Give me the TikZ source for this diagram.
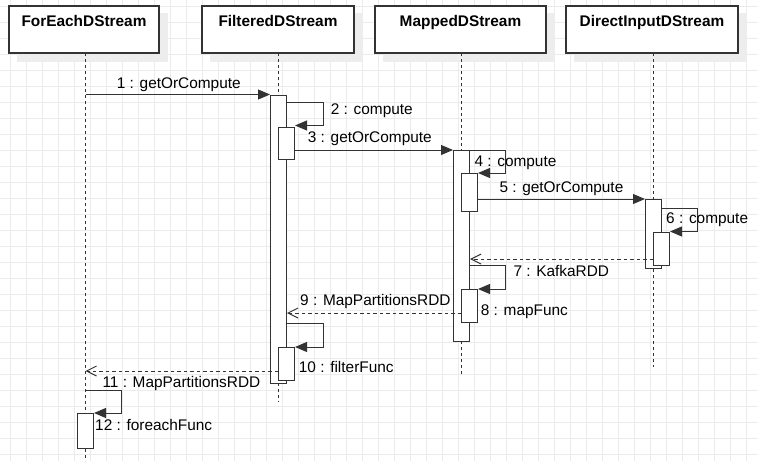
\documentclass[tikz,border=0pt]{standalone}
\usepackage{fontspec}
\setmainfont{Liberation Sans}
\usetikzlibrary{arrows.meta,backgrounds}
\definecolor{ln}{HTML}{333333}
\definecolor{gridc}{HTML}{EBEBEB}
\definecolor{shad}{HTML}{EDEDED}
\begin{document}
\begin{tikzpicture}[x=1pt,y=-1pt,
  hdr/.style={draw=ln, line width=1.2pt, fill=white, minimum width=#1, minimum height=47pt, inner sep=0pt},
  hdrtxt/.style={anchor=base, inner sep=0pt, font=\fontsize{15.4}{18}\selectfont\bfseries},
  act/.style={draw=ln, line width=1pt, fill=white, inner sep=0pt, minimum width=16pt, anchor=north west, minimum height=#1},
  life/.style={draw=ln, line width=1pt, dash pattern=on 3pt off 3pt},
  call/.style={draw=ln, line width=1pt, -{Triangle[length=12pt,width=10pt]}},
  ret/.style={draw=ln, line width=1pt, dash pattern=on 3.5pt off 3pt, -{Straight Barb[length=10pt,width=10pt]}},
  lbl/.style={anchor=base west, inner sep=0pt, font=\fontsize{15.4}{18}\selectfont}]
\useasboundingbox (0,0) rectangle (758,461);

% headers
\node[hdr=150] (hA) at (84,29.5) {};
\node[hdr=152] (hF) at (278,29.5) {};
\node[hdr=171] (hM) at (460.5,29.5) {};
\node[hdr=172] (hD) at (652,29.5) {};
\node[hdrtxt] (hAt) at (84,26.7) {ForEachDStream};
\node[hdrtxt] (hFt) at (278,26.7) {FilteredDStream};
\node[hdrtxt] (hMt) at (460.5,26.7) {MappedDStream};
\node[hdrtxt] (hDt) at (652,26.7) {DirectInputDStream};

% lifelines
\coordinate (lA) at (85.5,53);   \coordinate (lAe) at (85.5,461);
\coordinate (lF) at (278.5,53);  \coordinate (lFe) at (278.5,402);
\coordinate (lM) at (461.5,53);  \coordinate (lMe) at (461.5,374);
\coordinate (lD) at (653,53);    \coordinate (lDe) at (653,367);
\draw[life] (lA) -- (lAe);
\draw[life] (lF) -- (lFe);
\draw[life] (lM) -- (lMe);
\draw[life] (lD) -- (lDe);

% activations
\node[act=288.5] (F1) at (270,94.5) {};
\node[act=32] (F2) at (278,127) {};
\node[act=33] (F3) at (278,347) {};
\node[act=191] (M1) at (453,150) {};
\node[act=38] (M2) at (461,173) {};
\node[act=33] (M3) at (461,289) {};
\node[act=69] (D1) at (645,199) {};
\node[act=33] (D2) at (653,232) {};
\node[act=35] (E1) at (77,413) {};

% messages
\draw[call] (lA |- F1.north) -- (F1.north west);
\coordinate (s2) at ([shift={(0,7.5)}]F1.north east);
\draw[call] (s2) -- ++(36,0) |- ([shift={(0,-1.5)}]F2.north east);
\draw[call] (F2.east |- M1.north) -- (M1.north west);
\draw[call] (M1.north east) -- ++(35,0) |- (M2.north east);
\draw[call] (M2.east |- D1.north) -- (D1.north west);
\coordinate (s6) at ([shift={(0,9)}]D1.north east);
\draw[call] (s6) -- ++(35,0) |- ([shift={(0,-0.5)}]D2.north east);
\coordinate (r7) at ([shift={(0,-7)}]D2.south west);
\draw[ret] (r7) -- (r7 -| M1.east);
\coordinate (s8) at ([shift={(0,115)}]M1.north east);
\draw[call] (s8) -- ++(35,0) |- (M3.north east);
\coordinate (r9) at ([shift={(0,24)}]M3.north west);
\draw[ret] (r9) -- (r9 -| F1.east);
\coordinate (s10) at (M3.south -| F1.east);
\draw[call] (s10) -- ++(36,0) |- (F3.north east);
\coordinate (r11) at ([shift={(0,24)}]F3.north west);
\draw[ret] (r11) -- (r11 -| lA);
\coordinate (s12) at (85.5,390);
\draw[call] (s12) -- ++(35.5,0) |- (E1.north east);

% labels
\node[lbl] (t1) at (116.7,88.3) {1 : getOrCompute};
\node[lbl] (t2) at (330.7,114.3) {2 : compute};
\node[lbl] (t3) at (307.7,142.3) {3 : getOrCompute};
\node[lbl] (t4) at (474.3,166) {4 : compute};
\node[lbl] (t5) at (499.3,192.3) {5 : getOrCompute};
\node[lbl] (t6) at (666,223.3) {6 : compute};
\node[lbl] (t7) at (513.3,276) {7 : KafkaRDD};
\node[lbl] (t8) at (480.7,315.7) {8 : mapFunc};
\node[lbl] (t9) at (300,305.7) {9 : MapPartitionsRDD};
\node[lbl] (t10) at (298.7,372.7) {10 : filterFunc};
\node[lbl] (t11) at (102.3,387.7) {11 : MapPartitionsRDD};
\node[lbl] (t12) at (95,430.7) {12 : foreachFunc};

% background
\begin{pgfonlayer}{background}
  \fill[white] (0,0) rectangle (758,461);
  \foreach \x in {10.5,26.5,...,758} \draw[gridc, line width=0.9pt] (\x,0) -- (\x,461);
  \foreach \y in {6.5,22.5,...,461} \draw[gridc, line width=0.9pt] (0,\y) -- (758,\y);
  \foreach \h in {hA,hF,hM,hD}
    \fill[shad] ([shift={(8.5,8)}]\h.north west) rectangle ([shift={(8.5,8)}]\h.south east);
\end{pgfonlayer}
\end{tikzpicture}
\end{document}
